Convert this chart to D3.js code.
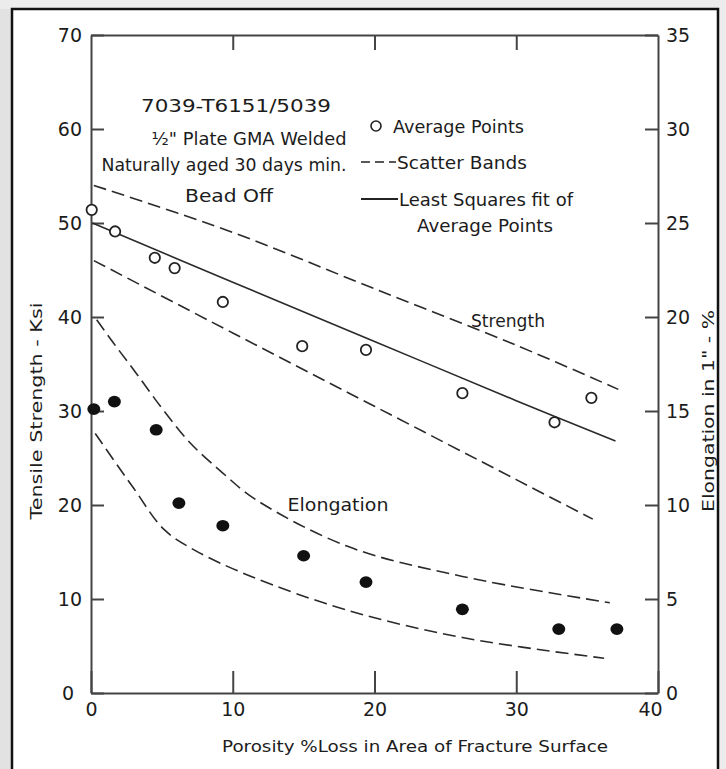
<!DOCTYPE html>
<html>
<head>
<meta charset="utf-8">
<script src="https://cdn.jsdelivr.net/npm/d3@7"></script>
<style>
  body { margin: 0; background: #fff; }
  text { font-family: "DejaVu Sans", sans-serif; fill: #1c1c1c; }
</style>
</head>
<body>
<div id="chart"></div>
<script>
// strength (open circles), left axis, ksi
var strengthX = [0.05, 1.7, 4.5, 5.9, 9.3, 14.9, 19.4, 26.2, 32.7, 35.3];
var strengthY = [51.4, 49.1, 46.3, 45.2, 41.6, 36.9, 36.5, 31.9, 28.8, 31.4];

// elongation (filled dots), right axis, %
var elongX = [0.2, 1.65, 4.6, 6.2, 9.3, 15.0, 19.4, 26.2, 33.0, 37.1];
var elongY = [15.1, 15.5, 14.0, 10.1, 8.9, 7.3, 5.9, 4.45, 3.4, 3.4];

// strength scatter bands + least squares fit
var strengthUpper = [[0.2, 54.0], [10, 49.0], [20, 43.0], [30, 37.0], [37.2, 32.3]];
var strengthFit   = [[0.1, 50.0], [10, 43.7], [20, 37.4], [30, 31.1], [37.0, 26.8]];
var strengthLower = [[0.2, 46.0], [10, 38.3], [20, 30.5], [30, 22.7], [35.4, 18.5]];

// elongation scatter bands
var elongUpper = [[0.4, 19.85], [1.6, 18.6], [3.2, 17.0], [5.1, 15.05], [7.0, 13.3], [9.3, 11.7],
                  [11.6, 10.3], [18.1, 7.8], [26.2, 6.2], [36.6, 4.8]];
var elongLower = [[0.3, 13.8], [3.0, 10.9], [5.15, 8.7], [7.3, 7.6], [11.3, 6.2],
                  [18.1, 4.4], [26.2, 2.95], [36.2, 1.85]];

var xTicks = [0, 10, 20, 30, 40];
var leftTicks = [0, 10, 20, 30, 40, 50, 60, 70];
var rightTicks = [0, 5, 10, 15, 20, 25, 30, 35];

var noteLines = ["7039-T6151/5039", "\u00BD\" Plate GMA Welded", "Naturally aged 30 days min.", "Bead Off"];

const w = 726, h = 769;

const svg = d3.select("#chart").append("svg")
  .attr("width", w)
  .attr("height", h);

// faint grey edges outside the frame
svg.append("rect").attr("x", 0).attr("y", 0).attr("width", 12).attr("height", h).attr("fill", "#e2e2e2");
svg.append("rect").attr("x", 0).attr("y", 0).attr("width", w).attr("height", 9).attr("fill", "#ececec");
svg.append("rect").attr("x", 718).attr("y", 0).attr("width", 8).attr("height", h).attr("fill", "#ececec");

svg.append("rect")
  .attr("x", 12).attr("y", 9).attr("width", 706).attr("height", 800)
  .attr("fill", "#fff").attr("stroke", "#111").attr("stroke-width", 2.5);

const x = d3.scaleLinear().domain([0, 40]).range([91, 658]);
const yL = d3.scaleLinear().domain([0, 70]).range([693, 35]);
const yR = d3.scaleLinear().domain([0, 35]).range([693, 35]);

function styleAxis(g) {
  g.selectAll("path").attr("stroke", "#444").attr("stroke-width", 2);
  g.selectAll("line").attr("stroke", "#444").attr("stroke-width", 2);
  g.selectAll("text").style("font-family", "DejaVu Sans").style("font-size", "19px").attr("fill", "#222");
}

const leftAxis = svg.append("g")
  .attr("transform", "translate(91,0)")
  .call(d3.axisLeft(yL).tickValues(leftTicks).tickSizeInner(-13).tickSizeOuter(0).tickPadding(9).tickFormat(d3.format("d")))
  .call(styleAxis);
leftAxis.selectAll(".tick text").filter(d => d === 0).attr("dx", -8);

svg.append("g")
  .attr("transform", "translate(658,0)")
  .call(d3.axisRight(yR).tickValues(rightTicks).tickSizeInner(-13).tickSizeOuter(0).tickPadding(8).tickFormat(d3.format("d")))
  .call(styleAxis);

const bottomAxis = svg.append("g")
  .attr("transform", "translate(0,693)")
  .call(d3.axisBottom(x).tickValues(xTicks).tickSizeInner(-22).tickSizeOuter(0).tickPadding(10).tickFormat(d3.format("d")))
  .call(styleAxis);
bottomAxis.selectAll(".tick text").filter(d => d === 40).attr("dx", -8);

svg.append("g")
  .attr("transform", "translate(0,35)")
  .call(d3.axisTop(x).tickValues([10, 20, 30]).tickSizeInner(-15).tickSizeOuter(0).tickFormat(""))
  .call(styleAxis);

// lines
const lineL = d3.line().x(d => x(d[0])).y(d => yL(d[1])).curve(d3.curveCatmullRom);
const lineR = d3.line().x(d => x(d[0])).y(d => yR(d[1])).curve(d3.curveCatmullRom);

function band(data, gen, dashed) {
  svg.append("path")
    .datum(data)
    .attr("d", gen)
    .attr("fill", "none")
    .attr("stroke", "#2a2a2a")
    .attr("stroke-width", 1.6)
    .attr("stroke-dasharray", dashed ? "13,6" : null);
}
band(strengthUpper, lineL, true);
band(strengthFit, lineL, false);
band(strengthLower, lineL, true);
band(elongUpper, lineR, true);
band(elongLower, lineR, true);

// points
svg.append("g").selectAll("circle")
  .data(strengthX)
  .enter()
  .append("circle")
  .attr("cx", d => x(d))
  .attr("cy", (d, i) => yL(strengthY[i]))
  .attr("r", 5.2)
  .attr("fill", "#fff")
  .attr("stroke", "#222")
  .attr("stroke-width", 1.8);

svg.append("g").selectAll("ellipse")
  .data(elongX)
  .enter()
  .append("ellipse")
  .attr("cx", d => x(d))
  .attr("cy", (d, i) => yR(elongY[i]))
  .attr("rx", 6.5)
  .attr("ry", 5.8)
  .attr("fill", "#111");

// notes
var noteX = [236, 249, 224, 229];
var noteY = [112, 145, 171, 202];
var noteLen = [190, 195, 245, 88];
svg.selectAll("text.note")
  .data(noteLines)
  .enter()
  .append("text")
  .attr("class", "note")
  .attr("x", (d, i) => noteX[i])
  .attr("y", (d, i) => noteY[i])
  .attr("text-anchor", "middle")
  .attr("textLength", (d, i) => noteLen[i])
  .attr("lengthAdjust", "spacingAndGlyphs")
  .style("font-size", "17px")
  .text(d => d);

// legend
svg.append("circle").attr("cx", 376).attr("cy", 126).attr("r", 5)
  .attr("fill", "#fff").attr("stroke", "#222").attr("stroke-width", 1.6);
svg.append("line").attr("x1", 361).attr("x2", 396).attr("y1", 162).attr("y2", 162)
  .attr("stroke", "#222").attr("stroke-width", 1.6).attr("stroke-dasharray", "9,5");
svg.append("line").attr("x1", 361).attr("x2", 398).attr("y1", 199).attr("y2", 199)
  .attr("stroke", "#222").attr("stroke-width", 1.8);

function label(t, x0, y0, len, anchor, size) {
  return svg.append("text")
    .attr("x", x0).attr("y", y0)
    .attr("text-anchor", anchor || "start")
    .attr("textLength", len)
    .attr("lengthAdjust", "spacingAndGlyphs")
    .style("font-size", (size || 17) + "px")
    .text(t);
}
label("Average Points", 393, 133, 131);
label("Scatter Bands", 397, 169, 130);
label("Least Squares fit of", 399, 206, 174);
label("Average Points", 417, 232, 136);
label("Strength", 508, 327, 74, "middle");
label("Elongation", 338, 511, 101, "middle");

label("Porosity %Loss in Area of Fracture Surface", 415, 752, 386, "middle", 16);

svg.append("text")
  .attr("transform", "translate(42,411) rotate(-90)")
  .attr("text-anchor", "middle")
  .attr("textLength", 217)
  .attr("lengthAdjust", "spacingAndGlyphs")
  .style("font-size", "16px")
  .text("Tensile  Strength - Ksi");

svg.append("text")
  .attr("transform", "translate(714,411) rotate(-90)")
  .attr("text-anchor", "middle")
  .attr("textLength", 202)
  .attr("lengthAdjust", "spacingAndGlyphs")
  .style("font-size", "16px")
  .text("Elongation in 1\" - %");
</script>
</body>
</html>
